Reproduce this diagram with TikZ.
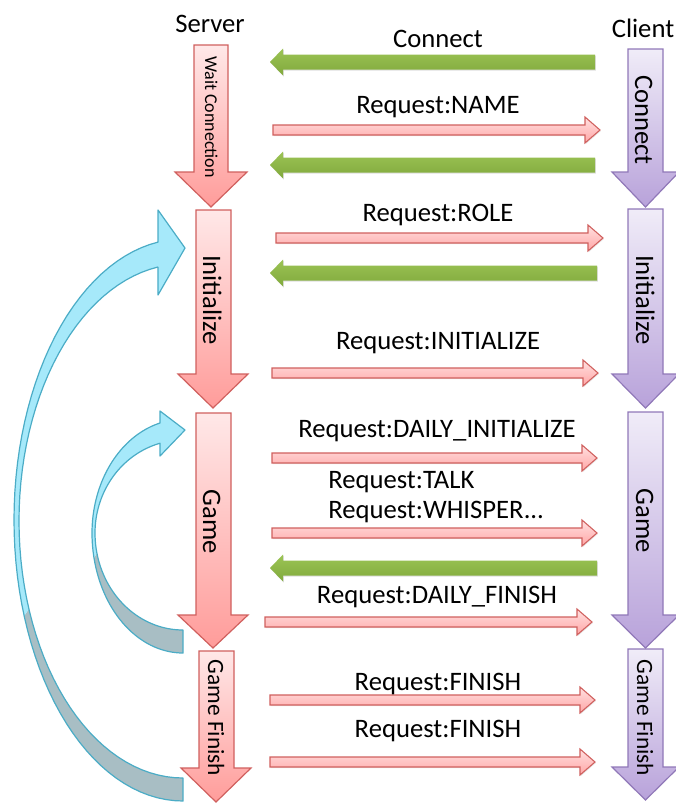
\documentclass[tikz,border=0pt]{standalone}
\usepackage{fontspec}
\setmainfont{Carlito}
\usetikzlibrary{shadows}
\definecolor{redline}{HTML}{D0605E}
\definecolor{redtop}{HTML}{FFE8E8}
\definecolor{redbot}{HTML}{FF9C9A}
\definecolor{redhtop}{HTML}{FFE0E0}
\definecolor{redhbot}{HTML}{FFA6A6}
\definecolor{purpline}{HTML}{9078B8}
\definecolor{purptop}{HTML}{F0ECF8}
\definecolor{purpbot}{HTML}{B8A2DA}
\definecolor{greentop}{HTML}{9CC455}
\definecolor{greenbot}{HTML}{80A93C}
\definecolor{bluefill}{HTML}{A6E9FA}
\definecolor{blueline}{HTML}{4BACC6}
\definecolor{grayblue}{HTML}{A8BEC4}
\newcommand\vblock[8]{% style, x1, x2, ytop, yhead, ytip, hx1, hx2
  \path[#1] (#2,#4) -- (#3,#4) -- (#3,#5) -- (#8,#5) -- ({(#7+#8)/2},#6) -- (#7,#5) -- (#2,#5) -- cycle;}
\newcommand\rblock[3]{% x1, xtip, y
  \path[redh] (#1,{#3-5}) -- ({#2-15},{#3-5}) -- ({#2-15},{#3-13}) -- (#2,#3) -- ({#2-15},{#3+13}) -- ({#2-15},{#3+5}) -- (#1,{#3+5}) -- cycle;}
\newcommand\lblock[3]{% xtip, x2, y
  \path[greenh] (#1,#3) -- ({#1+13},{#3-13.5}) -- ({#1+13},{#3-7.5}) -- (#2,{#3-7.5}) -- (#2,{#3+7.5}) -- ({#1+13},{#3+7.5}) -- ({#1+13},{#3+13.5}) -- cycle;}
\begin{document}
\begin{tikzpicture}[x=0.75pt,y=-0.75pt,
  lbl/.style={font=\fontsize{20}{24}\selectfont, inner sep=0pt, anchor=base},
  vlbl/.style={lbl, rotate=-90},
  redv/.style={draw=redline, line width=0.9pt, line join=miter, top color=redtop, bottom color=redbot},
  purpv/.style={draw=purpline, line width=0.9pt, line join=miter, top color=purptop, bottom color=purpbot},
  redh/.style={draw=redline, line width=0.8pt, top color=redhtop, bottom color=redhbot, drop shadow={shadow xshift=0.6pt, shadow yshift=-0.8pt, opacity=0.2}},
  greenh/.style={top color=greentop, bottom color=greenbot, drop shadow={shadow xshift=0.6pt, shadow yshift=-0.8pt, opacity=0.25}},
  lightband/.style={fill=bluefill},
  grayband/.style={fill=grayblue},
  bandline/.style={draw=blueline, line width=0.9pt, line join=round}]
\useasboundingbox (0,0) rectangle (675,803);

% ---------- blue loop arrows ----------
% big loop (Game Finish -> Initialize)
\path[grayband] plot[domain=90:160, samples=30] ({183+169*cos(\x)},{520+281*sin(\x)})
  -- plot[domain=160:90, samples=30] ({183+164*cos(\x)},{521+257*sin(\x)}) -- cycle;
\path[lightband] plot[domain=160:261.5, samples=40] ({183+169*cos(\x)},{520+281*sin(\x)})
  -- (158,210) -- (185,248) -- (158,295)
  -- plot[domain=261.2:160, samples=40] ({183+164*cos(\x)},{521+257*sin(\x)}) -- cycle;
\path[bandline] plot[domain=90:261.5, samples=60] ({183+169*cos(\x)},{520+281*sin(\x)})
  -- (158,210) -- (185,248) -- (158,295)
  -- plot[domain=261.2:90, samples=60] ({183+164*cos(\x)},{521+257*sin(\x)}) -- cycle;
% small loop (Game -> Game)
\path[grayband] plot[domain=90:168, samples=30] ({183+91*cos(\x)},{533+120*sin(\x)})
  -- plot[domain=168:90, samples=30] ({183+88*cos(\x)},{533+97*sin(\x)}) -- cycle;
\path[lightband] plot[domain=168:180, samples=10] ({183+91*cos(\x)},{533+120*sin(\x)})
  -- plot[domain=180:255.36, samples=30] ({183+91*cos(\x)},{533+113.7*sin(\x)})
  -- (160,411) -- (185,430) -- (160,456)
  -- plot[domain=254.85:180, samples=30] ({183+88*cos(\x)},{533+93*sin(\x)})
  -- plot[domain=180:168, samples=10] ({183+88*cos(\x)},{533+97*sin(\x)}) -- cycle;
\path[bandline] plot[domain=90:180, samples=40] ({183+91*cos(\x)},{533+120*sin(\x)})
  -- plot[domain=180:255.36, samples=40] ({183+91*cos(\x)},{533+113.7*sin(\x)})
  -- (160,411) -- (185,430) -- (160,456)
  -- plot[domain=254.85:180, samples=40] ({183+88*cos(\x)},{533+93*sin(\x)})
  -- plot[domain=180:90, samples=40] ({183+88*cos(\x)},{533+97*sin(\x)}) -- cycle;

% ---------- server column ----------
\vblock{redv}{194}{228}{45}{172}{207}{175}{247}
\vblock{redv}{196}{231}{210}{374}{408}{178}{248}
\vblock{redv}{196}{231}{413}{615}{648}{178}{248}
\vblock{redv}{199}{234}{651}{768}{802}{181}{251}
% ---------- client column ----------
\vblock{purpv}{628}{663}{49}{172}{207}{612}{679}
\vblock{purpv}{628}{663}{209}{374}{408}{612}{679}
\vblock{purpv}{628}{663}{412}{615}{648}{612}{679}
\vblock{purpv}{628}{663}{649}{767}{800}{612}{679}

% ---------- messages ----------
\lblock{270}{595}{62}
\rblock{273}{600}{130}
\lblock{270}{595}{165}
\rblock{276}{603}{238}
\lblock{270}{597}{273}
\rblock{272}{598}{373}
\rblock{272}{597}{458}
\rblock{272}{597}{533}
\lblock{270}{597}{568}
\rblock{265}{592}{622}
\rblock{270}{595}{700}
\rblock{270}{595}{762}

% ---------- texts ----------
\node[lbl] (server) at (210,32) {Server};
\node[lbl] (client) at (643,37) {Client};
\node[lbl] (mconnect) at (438,47) {Connect};
\node[lbl] (mname) at (438,113) {Request:NAME};
\node[lbl] (mrole) at (438,221) {Request:ROLE};
\node[lbl] (minit) at (438,349) {Request:INITIALIZE};
\node[lbl] (mdinit) at (437,437) {Request:DAILY\_INITIALIZE};
\node[lbl, anchor=base west] (mtalk) at (328,488) {Request:TALK};
\node[lbl, anchor=base west] (mwhisper) at (328,518) {Request:WHISPER...};
\node[lbl] (mdfinish) at (437,603) {Request:DAILY\_FINISH};
\node[lbl] (mfinish1) at (438,690) {Request:FINISH};
\node[lbl] (mfinish2) at (438,737) {Request:FINISH};

\node[vlbl, font=\fontsize{13.5}{16}\selectfont] (swait) at (205,117) {Wait Connection};
\node[vlbl] (sinit) at (203,300) {Initialize};
\node[vlbl] (sgame) at (203,522) {Game};
\node[vlbl, font=\fontsize{17.5}{21}\selectfont] (sfinish) at (208,718) {Game Finish};
\node[vlbl] (cconnect) at (635,120) {Connect};
\node[vlbl] (cinit) at (636,300) {Initialize};
\node[vlbl] (cgame) at (636,521) {Game};
\node[vlbl, font=\fontsize{17.5}{21}\selectfont] (cfinish) at (637,718) {Game Finish};
\end{tikzpicture}
\end{document}
